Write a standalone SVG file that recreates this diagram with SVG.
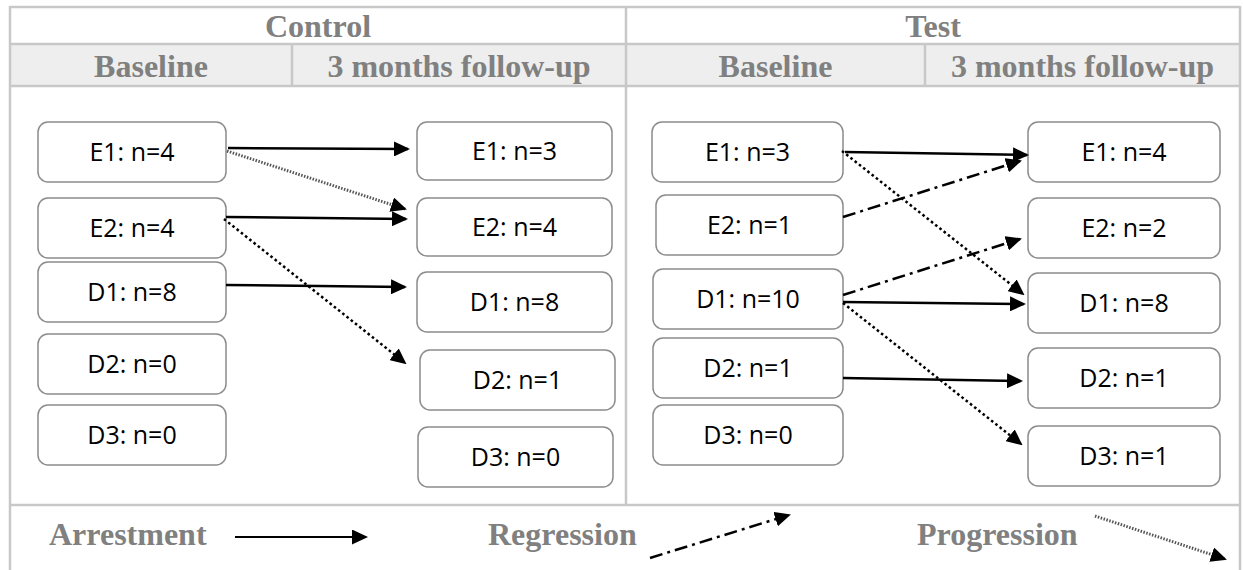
<svg xmlns="http://www.w3.org/2000/svg" width="1243" height="570" viewBox="0 0 1243 570">
<style>
.h{font-family:"Liberation Serif","Times New Roman",serif;font-weight:bold;font-size:32px;fill:#808080;text-anchor:middle}
.lg{font-family:"Liberation Serif","Times New Roman",serif;font-weight:bold;font-size:32px;fill:#808080}
.grid{stroke:#c8c8c8;stroke-width:2.5;fill:none}
.box{fill:#fff;stroke:#8c8c8c;stroke-width:1.5}
.t{font-family:"Open Sans","Liberation Sans",sans-serif;font-size:25px;fill:#000;text-anchor:middle}
.arr{fill:none;stroke:#000;stroke-width:2.5;marker-end:url(#ah)}
.reg{fill:none;stroke:#000;stroke-width:2.5;stroke-dasharray:13 5 3 5;marker-end:url(#ah)}
.pro{fill:none;stroke:#000;stroke-width:2.5;stroke-dasharray:2.6 2.8;marker-end:url(#ah)}
.prl{fill:none;stroke:#555;stroke-width:3;stroke-dasharray:1.5 1.5;marker-end:url(#ah)}
</style>
<defs>
<marker id="ah" viewBox="0 0 16 15" markerWidth="16" markerHeight="15" markerUnits="userSpaceOnUse" refX="14" refY="7.5" orient="auto">
<path d="M0,0 L16,7.5 L0,15 z" fill="#000"/>
</marker>
</defs>
<rect width="1243" height="570" fill="#fff"/>
<g id="table">
<rect x="10" y="44" width="1230" height="42" fill="#eeeeee"/>
<line class="grid" x1="10" y1="7" x2="1240" y2="7"/>
<line class="grid" x1="10" y1="44" x2="1240" y2="44"/>
<line class="grid" x1="10" y1="86" x2="1240" y2="86"/>
<line class="grid" x1="10" y1="505" x2="1240" y2="505"/>
<line class="grid" x1="10" y1="6" x2="10" y2="570"/>
<line class="grid" x1="1240" y1="6" x2="1240" y2="570"/>
<line class="grid" x1="626" y1="7" x2="626" y2="505"/>
<line class="grid" x1="292" y1="44" x2="292" y2="86"/>
<line class="grid" x1="925" y1="44" x2="925" y2="86"/>
<text class="h" x="318" y="37">Control</text>
<text class="h" x="933" y="37">Test</text>
<text class="h" x="151" y="77">Baseline</text>
<text class="h" x="459" y="77">3 months follow-up</text>
<text class="h" x="775.5" y="77">Baseline</text>
<text class="h" x="1082.5" y="77">3 months follow-up</text>
</g>
<g id="c-b-e1"><rect class="box" x="38" y="122" width="188" height="60" rx="10"/><text class="t" x="132" y="161">E1: n=4</text></g>
<g id="c-b-e2"><rect class="box" x="38" y="198" width="188" height="60" rx="10"/><text class="t" x="132" y="237">E2: n=4</text></g>
<g id="c-b-d1"><rect class="box" x="38" y="262" width="188" height="60" rx="10"/><text class="t" x="132" y="301">D1: n=8</text></g>
<g id="c-b-d2"><rect class="box" x="38" y="334" width="188" height="60" rx="10"/><text class="t" x="132" y="373">D2: n=0</text></g>
<g id="c-b-d3"><rect class="box" x="38" y="405" width="188" height="60" rx="10"/><text class="t" x="132" y="444">D3: n=0</text></g>
<g id="c-f-e1"><rect class="box" x="417" y="122" width="195" height="58" rx="10"/><text class="t" x="514.5" y="160">E1: n=3</text></g>
<g id="c-f-e2"><rect class="box" x="417" y="198" width="195" height="58" rx="10"/><text class="t" x="514.5" y="236">E2: n=4</text></g>
<g id="c-f-d1"><rect class="box" x="417" y="272" width="195" height="60" rx="10"/><text class="t" x="514.5" y="311">D1: n=8</text></g>
<g id="c-f-d2"><rect class="box" x="420" y="350" width="195" height="60" rx="10"/><text class="t" x="517.5" y="389">D2: n=1</text></g>
<g id="c-f-d3"><rect class="box" x="418" y="427" width="195" height="60" rx="10"/><text class="t" x="515.5" y="466">D3: n=0</text></g>
<g id="t-b-e1"><rect class="box" x="652" y="122" width="191" height="60" rx="10"/><text class="t" x="747.5" y="161">E1: n=3</text></g>
<g id="t-b-e2"><rect class="box" x="656" y="195" width="187" height="60" rx="10"/><text class="t" x="749.5" y="234">E2: n=1</text></g>
<g id="t-b-d1"><rect class="box" x="653" y="269" width="190" height="60" rx="10"/><text class="t" x="748" y="308">D1: n=10</text></g>
<g id="t-b-d2"><rect class="box" x="653" y="338" width="190" height="60" rx="10"/><text class="t" x="748" y="377">D2: n=1</text></g>
<g id="t-b-d3"><rect class="box" x="653" y="405" width="190" height="60" rx="10"/><text class="t" x="748" y="444">D3: n=0</text></g>
<g id="t-f-e1"><rect class="box" x="1028" y="122" width="192" height="60" rx="10"/><text class="t" x="1124" y="161">E1: n=4</text></g>
<g id="t-f-e2"><rect class="box" x="1028" y="198" width="192" height="60" rx="10"/><text class="t" x="1124" y="237">E2: n=2</text></g>
<g id="t-f-d1"><rect class="box" x="1028" y="273" width="192" height="60" rx="10"/><text class="t" x="1124" y="312">D1: n=8</text></g>
<g id="t-f-d2"><rect class="box" x="1028" y="348" width="192" height="60" rx="10"/><text class="t" x="1124" y="387">D2: n=1</text></g>
<g id="t-f-d3"><rect class="box" x="1028" y="426" width="192" height="60" rx="10"/><text class="t" x="1124" y="465">D3: n=1</text></g>
<g id="connectors">
<line class="arr" x1="228" y1="148" x2="408" y2="149"/>
<line class="prl" x1="227" y1="151" x2="405" y2="209"/>
<line class="arr" x1="226" y1="217" x2="406" y2="219"/>
<line class="pro" x1="224" y1="219" x2="405" y2="363"/>
<line class="arr" x1="226" y1="285" x2="405" y2="287"/>
<line class="arr" x1="845" y1="152" x2="1027" y2="155"/>
<line class="pro" x1="842" y1="151" x2="1023" y2="294"/>
<line class="reg" x1="843" y1="217" x2="1020" y2="161"/>
<line class="reg" x1="843" y1="295" x2="1020" y2="239"/>
<line class="arr" x1="843" y1="302" x2="1024" y2="304"/>
<line class="pro" x1="843" y1="303" x2="1021" y2="444"/>
<line class="arr" x1="843" y1="378" x2="1021" y2="381"/>
</g>
<g id="legend">
<text class="lg" x="49" y="545">Arrestment</text>
<line class="arr" style="stroke-width:2" x1="235" y1="537" x2="366" y2="537"/>
<text class="lg" x="488" y="545">Regression</text>
<line class="reg" x1="650" y1="558" x2="789" y2="515"/>
<text class="lg" x="917" y="545">Progression</text>
<line class="prl" x1="1095" y1="516" x2="1225" y2="559"/>
</g>
</svg>
